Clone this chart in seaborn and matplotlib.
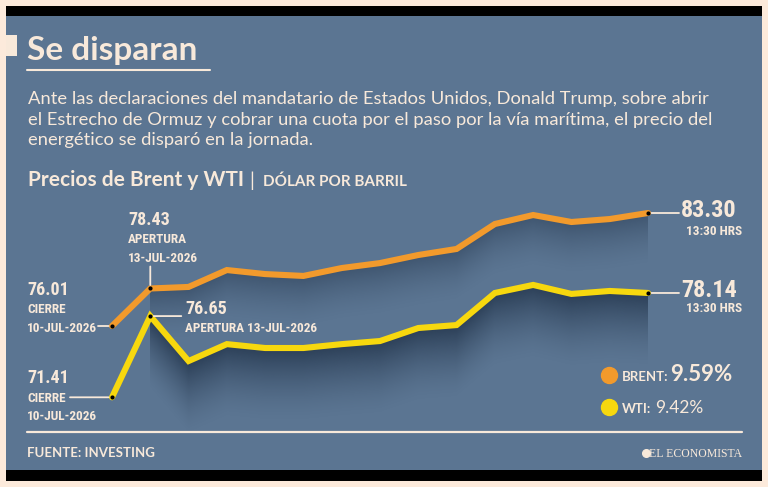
"""Se disparan: precios de Brent y WTI (dólar por barril), 10 al 13 de julio."""
import matplotlib
matplotlib.use("Agg")
import matplotlib.pyplot as plt
import numpy as np
import pandas as pd
import seaborn as sns
from matplotlib import colors as mcolors
from matplotlib import font_manager
from matplotlib.lines import Line2D
from matplotlib.patches import Rectangle

# ----- data ------------------------------------------------------------------
brent = [76.01, 78.43, 78.53, 79.62, 79.36, 79.24, 79.75, 80.07,
         80.59, 80.98, 82.59, 83.17, 82.72, 82.91, 83.30]
wti = [71.41, 76.65, 73.75, 74.84, 74.59, 74.59, 74.84, 75.04,
       75.88, 76.07, 78.14, 78.66, 78.08, 78.27, 78.14]
series = ["BRENT", "WTI"]
start_tag = ["CIERRE", "10-JUL-2026"]
open_tag = ["APERTURA", "13-JUL-2026"]
end_tag = "13:30 HRS"

title = "Se disparan"
dek = ["Ante las declaraciones del mandatario de Estados Unidos, Donald Trump, sobre abrir",
       "el Estrecho de Ormuz y cobrar una cuota por el paso por la vía marítima, el precio del",
       "energético se disparó en la jornada."]
chart_title = "Precios de Brent y WTI"
units = "DÓLAR POR BARRIL"
source = "FUENTE: INVESTING"
brand = "EL ECONOMISTA"

# ----- style -----------------------------------------------------------------
BG, PANEL, INK = "#FCEADB", "#5B7592", "#F8E9DA"
SHADE = "#1A2B41"
COLORS = {"BRENT": "#F29A2C", "WTI": "#F7D80E"}
W, H = 768, 487

sns.set_style("white")
installed = {f.name for f in font_manager.fontManager.ttflist}
SANS = "Lato" if "Lato" in installed else "DejaVu Sans"
for cand in ["Liberation Sans Narrow", "DejaVu Sans Condensed", "Roboto Condensed", "Roboto"]:
    if cand in installed:
        NARROW = cand
        break
else:
    NARROW = "DejaVu Sans"
SERIF = "Liberation Serif" if "Liberation Serif" in installed else "DejaVu Serif"
plt.rcParams["font.family"] = [SANS, "DejaVu Sans"]

fig = plt.figure(figsize=(W / 100, H / 100), dpi=100, facecolor=BG)


def fx(px):
    return px / W


def fy(py):
    return 1 - py / H


def box(x0, y0, x1, y1, color):
    fig.add_artist(Rectangle((fx(x0), fy(y1)), (x1 - x0) / W, (y1 - y0) / H,
                             transform=fig.transFigure, color=color, lw=0, zorder=-10))


def hline(x0, x1, y, lw=1.5):
    fig.add_artist(Line2D([fx(x0), fx(x1)], [fy(y), fy(y)], color=INK, lw=lw,
                          transform=fig.transFigure))


box(6, 16, 762, 470, PANEL)
box(6, 6, 762, 16, "black")
box(6, 470, 762, 481, "black")
box(6, 35, 17, 56, INK)

# ----- headline --------------------------------------------------------------
fig.text(fx(27), fy(60), title, color=INK, fontsize=24, fontweight="bold", va="baseline")
hline(27, 210, 69.5)
for k, line in enumerate(dek):
    fig.text(fx(28), fy(104 + 20.5 * k), line, color=INK, fontsize=13.2, va="baseline")
fig.text(fx(28), fy(186), chart_title, color=INK, fontsize=15, fontweight="bold", va="baseline")
fig.text(fx(249), fy(187), "|", color=INK, fontsize=14, va="baseline")
fig.text(fx(263), fy(186), units, color=INK, fontsize=11, fontweight="bold", va="baseline")

# ----- chart -----------------------------------------------------------------
ax = fig.add_axes([0, 0, 1, 1])
ax.set_axis_off()
ax.patch.set_alpha(0)

n = len(brent)
df = pd.DataFrame({"hora": np.tile(np.arange(n), 2),
                   "precio": brent + wti,
                   "serie": np.repeat(series, n)})


def shade(vals, depth, alpha_max, ex=1.6):
    xs = np.linspace(1, n - 1, 700)
    top = np.interp(xs, np.arange(n), vals)
    ys = np.linspace(min(vals[1:]) - depth, max(vals[1:]), 500)
    d = top[None, :] - ys[:, None]
    a = np.where(d >= 0, np.clip(1 - d / depth, 0, 1) ** ex, 0) * alpha_max
    rgba = np.zeros(a.shape + (4,))
    rgba[..., :3] = mcolors.to_rgb(SHADE)
    rgba[..., 3] = a
    ax.imshow(rgba, extent=(xs[0], xs[-1], ys[0], ys[-1]), origin="lower",
              aspect="auto", zorder=2, interpolation="bilinear")


shade(brent, 3.4, 0.45)
shade(wti, 4.8, 0.75)

sns.lineplot(data=df, x="hora", y="precio", hue="serie", palette=COLORS,
             linewidth=4.4, legend=False, ax=ax, zorder=5, sort=False)
for ln in ax.lines:
    ln.set_solid_joinstyle("miter")

X0, DX = 112, 536 / 14   # px of first point, px per step
Y0, DY = 326, 15.5       # px of brent[0], px per dollar
ax.set_xlim(-X0 / DX, (W - X0) / DX)
ax.set_ylim(brent[0] - (H - Y0) / DY, brent[0] + Y0 / DY)
ax.set_axis_off()

marks = [0, 1, n - 1]
for vals in (brent, wti):
    ax.scatter(marks, [vals[i] for i in marks], s=9, color="black", zorder=7, lw=0)


def tag(text, i, v, dx, dy, size, ha="left"):
    ax.annotate(text, (i, v), xytext=(dx, dy), textcoords="offset pixels",
                ha=ha, va="baseline", color=INK, fontsize=size, fontweight="bold",
                family=NARROW, zorder=8)


def leader(i, v, dx, dy):
    ax.annotate("", (i, v), xytext=(dx, dy), textcoords="offset pixels",
                arrowprops=dict(arrowstyle="-", color=INK, lw=1.3, shrinkA=0, shrinkB=2.5),
                zorder=6)


BIG, SMALL, END = 13, 9.5, 17.5
# Brent
tag(f"{brent[0]:.2f}", 0, brent[0], -85, 31, BIG)
tag(start_tag[0], 0, brent[0], -85, 13, SMALL)
tag(start_tag[1], 0, brent[0], -85, -6, SMALL)
leader(0, brent[0], -14, 0)
tag(f"{brent[1]:.2f}", 1, brent[1], -22, 63, BIG)
tag(open_tag[0], 1, brent[1], -22, 45, SMALL)
tag(open_tag[1], 1, brent[1], -22, 26, SMALL)
leader(1, brent[1], 0, 22)
tag(f"{brent[-1]:.2f}", n - 1, brent[-1], 33, -4, END)
tag(end_tag, n - 1, brent[-1], 94, -22, SMALL, ha="right")
leader(n - 1, brent[-1], 31, 0)
# WTI
tag(f"{wti[0]:.2f}", 0, wti[0], -85, 14, BIG)
tag(start_tag[0], 0, wti[0], -85, -5, SMALL)
tag(start_tag[1], 0, wti[0], -85, -23, SMALL)
leader(0, wti[0], -42, 0)
tag(f"{wti[1]:.2f}", 1, wti[1], 35, 2, BIG)
tag(" ".join(open_tag), 1, wti[1], 35, -16, SMALL)
leader(1, wti[1], 31, 0)
tag(f"{wti[-1]:.2f}", n - 1, wti[-1], 33, -4, END)
tag(end_tag, n - 1, wti[-1], 94, -19, SMALL, ha="right")
leader(n - 1, wti[-1], 31, 0)

# ----- legend with change ----------------------------------------------------
change = {"BRENT": (brent[-1] / brent[0] - 1) * 100,
          "WTI": (wti[-1] / wti[0] - 1) * 100}
for s, py, xnum, size, weight in (("BRENT", 375, 670, 16, "bold"),
                                  ("WTI", 407, 655, 12.5, "normal")):
    fig.add_artist(Line2D([fx(609)], [fy(py)], marker="o", ms=11.5, lw=0,
                          color=COLORS[s], transform=fig.transFigure))
    fig.text(fx(622), fy(py + 6), f"{s}:", color=INK, fontsize=9.5,
             fontweight="bold", va="baseline")
    fig.text(fx(xnum), fy(py + 6), f"{change[s]:.2f}%", color=INK, fontsize=size,
             fontweight=weight, va="baseline")

# ----- footer ----------------------------------------------------------------
hline(27, 742, 432, lw=1.6)
fig.text(fx(27), fy(457), source, color=INK, fontsize=9.5, fontweight="bold", va="baseline")
fig.add_artist(Line2D([fx(646)], [fy(453)], marker="o", ms=5.5, lw=0, color=INK,
                      transform=fig.transFigure))
fig.text(fx(742), fy(457), brand, color=INK, fontsize=8.5, family=SERIF,
         ha="right", va="baseline")

fig.savefig("out.png", dpi=100, facecolor=BG)
